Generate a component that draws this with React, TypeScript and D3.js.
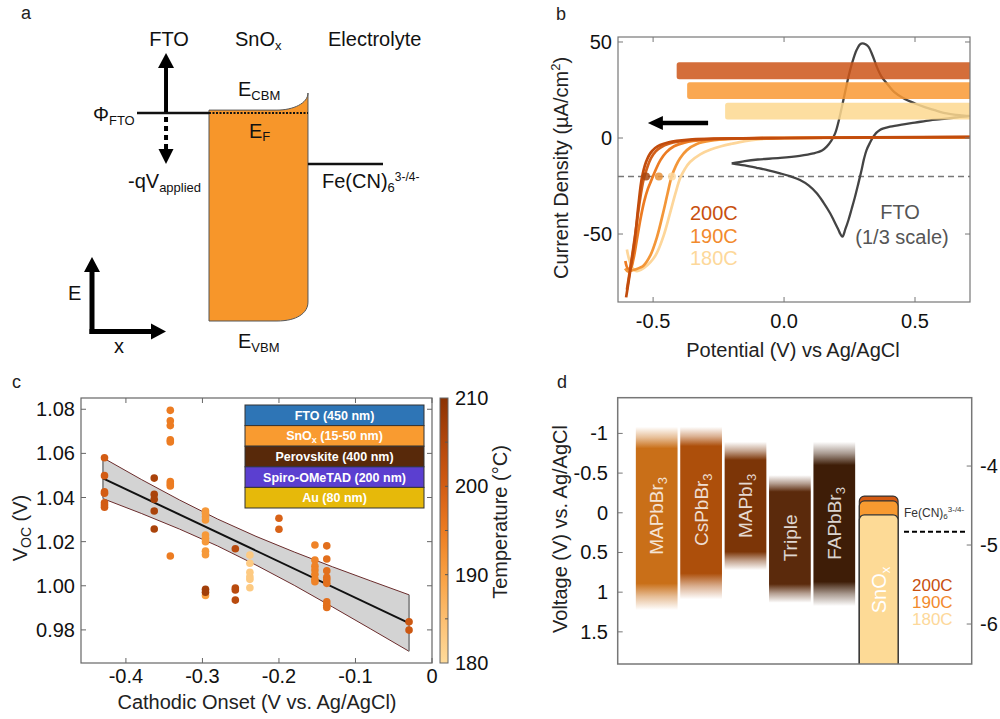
import React from "react";
import * as d3 from "d3";

const FONT = "'Liberation Sans', Arial, Helvetica, sans-serif";
type P = [number, number];

/* ================= Panel a (schematic levels, unitless) ================= */
const aRegionX = [0, 0.2927, 0.569, 0.695, 1]; // FTO start, SnOx left, bend start, SnOx right, electrolyte end
const aLevels = { vbm: 0, vbmRight: 0.083, fermi: 0.912, cbm: 0.925, cbmRight: 1.0, redox: 0.689 };
const aArrowX = 0.118;

/* ================= Panel b ================= */
const cvXTicks = [-0.5, 0, 0.5];
const cvXTickLabels = ["-0.5", "0.0", "0.5"];
const cvYTicks = [50, 0, -50];
const cvYTickLabels = ["50", "0", "-50"];

const lsv200a: P[] = [
  [-0.603, -83], [-0.586, -68], [-0.569, -52], [-0.556, -35], [-0.543, -21], [-0.527, -12.5],
  [-0.511, -8], [-0.492, -5.2], [-0.473, -3.6], [-0.44, -2.2], [-0.41, -1.5], [-0.35, -0.7],
  [-0.25, -0.3], [0, 0], [0.71, 0.6],
];
const lsv200b: P[] = [
  [-0.6, -79], [-0.583, -64], [-0.566, -48], [-0.551, -33], [-0.537, -22], [-0.524, -16],
  [-0.508, -10.5], [-0.49, -7], [-0.47, -4.8], [-0.44, -3], [-0.4, -1.8], [-0.34, -0.9],
  [-0.25, -0.4], [0, 0], [0.71, 0.5],
];
const lsv190a: P[] = [
  [-0.606, -64], [-0.596, -68], [-0.586, -68], [-0.575, -63], [-0.562, -53], [-0.548, -42],
  [-0.534, -33], [-0.52, -26.5], [-0.505, -21.5], [-0.49, -16.5], [-0.472, -11.5], [-0.45, -7.5],
  [-0.42, -4.3], [-0.38, -2.4], [-0.3, -0.9], [-0.2, -0.3], [0, 0], [0.71, 0.4],
];
const lsv190b: P[] = [
  [-0.607, -68], [-0.596, -69.5], [-0.582, -69], [-0.565, -68.3], [-0.55, -67.5], [-0.537, -66.5],
  [-0.51, -61], [-0.486, -52], [-0.46, -38], [-0.445, -29], [-0.429, -20], [-0.413, -14.5],
  [-0.397, -10.5], [-0.371, -6.3], [-0.333, -3.1], [-0.28, -1.4], [-0.2, -0.5], [0, 0], [0.71, 0.4],
];
const lsv180: P[] = [
  [-0.6, -58], [-0.59, -64], [-0.577, -68], [-0.562, -69.3], [-0.545, -68.5], [-0.52, -66],
  [-0.5, -63], [-0.486, -60], [-0.46, -51], [-0.435, -39], [-0.415, -29], [-0.397, -21],
  [-0.378, -16], [-0.359, -12.5], [-0.32, -8.5], [-0.28, -6], [-0.24, -4.3], [-0.2, -3],
  [-0.15, -1.6], [-0.1, -0.7], [0, 0], [0.71, 0.3],
];
const ftoCV: P[] = [
  [-0.2, -13.2], [-0.15, -12], [-0.1, -11.2], [-0.015, -10.4], [0.06, -9.3], [0.112, -8], [0.145, -6.5],
  [0.163, -4.5], [0.18, -1.5], [0.195, 2.4], [0.208, 8.5], [0.221, 16.3], [0.234, 24.5], [0.246, 31.9],
  [0.262, 40], [0.277, 45.8], [0.29, 48.8], [0.3, 49.3], [0.311, 48.8], [0.322, 47.6], [0.338, 43],
  [0.354, 37.1], [0.372, 32], [0.392, 28.5], [0.42, 24], [0.456, 20.7], [0.5, 18], [0.532, 16.3],
  [0.575, 14.5], [0.621, 12.8], [0.66, 12], [0.697, 11.5], [0.71, 11.4],
  [0.66, 10.8], [0.6, 9.8], [0.557, 9.2], [0.5, 8], [0.45, 7], [0.405, 5.9], [0.38, 5], [0.366, 4.2],
  [0.352, 2.7], [0.341, 0.7], [0.328, -2.5], [0.315, -6.3], [0.305, -11], [0.296, -16.7], [0.284, -23.5],
  [0.271, -30.6], [0.258, -37], [0.246, -42.7], [0.234, -47.5], [0.223, -51.4], [0.215, -50],
  [0.208, -47.9], [0.192, -43.5], [0.176, -39.2], [0.15, -33.5], [0.125, -28.8], [0.095, -24.8],
  [0.061, -21.9], [0.025, -20], [-0.015, -18.4], [-0.06, -16.8], [-0.105, -15.5], [-0.15, -14.3], [-0.2, -13.2],
];
const tempNames = ["200C", "190C", "180C"];
const tempBarStart = [-0.41, -0.37, -0.225];
const tempBarLevel = [35, 24.7, 14];
const onsetPotential = [-0.527, -0.478, -0.428];
const onsetCurrent = -20;
const sweepArrowX = [-0.29, -0.52];
const sweepArrowLevel = 7.8;

/* ================= Panel c ================= */
const onsetX = [
  -0.428, -0.428, -0.428, -0.428, -0.428, -0.428, -0.428,
  -0.363, -0.363, -0.363, -0.363, -0.363,
  -0.342, -0.342, -0.342, -0.342, -0.342, -0.342, -0.342, -0.342, -0.342,
  -0.296, -0.296, -0.296, -0.296, -0.296, -0.296, -0.296, -0.296, -0.296, -0.296, -0.296, -0.296,
  -0.257, -0.257, -0.257, -0.257,
  -0.238, -0.238, -0.238, -0.238, -0.238, -0.238,
  -0.2, -0.2,
  -0.153, -0.153, -0.153, -0.153, -0.153, -0.153, -0.153,
  -0.1375, -0.1375, -0.1375, -0.1375, -0.1375, -0.1375, -0.1375, -0.1375, -0.1375,
  -0.03, -0.03,
];
const vocY = [
  1.058, 1.0499, 1.0426, 1.0419, 1.0376, 1.0366, 1.0356,
  1.0488, 1.0414, 1.0392, 1.0339, 1.0257,
  1.0795, 1.0748, 1.0726, 1.0661, 1.0652, 1.0472, 1.0461, 1.0452, 1.0135,
  1.0339, 1.0328, 1.0313, 1.0298, 1.023, 1.0215, 1.02, 1.0157, 1.0141, 0.9956, 0.9984, 0.9971,
  1.0168, 0.999, 0.9981, 0.9935,
  1.0139, 1.0102, 1.0061, 1.0041, 1.0029, 0.9991,
  1.0306, 1.0256,
  1.0185, 1.0117, 1.0089, 1.0071, 1.0052, 1.003, 1.0018,
  1.0181, 1.0121, 1.0068, 1.0038, 1.0026, 1.0011, 0.9927, 0.9912, 0.9902,
  0.9837, 0.9799,
];
const tempC = [
  200, 200, 200, 200, 200, 200, 200,
  206, 206, 206, 206, 206,
  195, 195, 195, 195, 195, 195, 195, 195, 195,
  191, 191, 191, 191, 191, 191, 191, 191, 191, 190, 207, 207,
  204, 204, 204, 204,
  183, 183, 183, 183, 183, 183,
  199, 199,
  194, 194, 194, 194, 194, 194, 194,
  197, 197, 197, 197, 197, 197, 197, 197, 197,
  201, 201,
];
const fitX = [-0.43, -0.03];
const fitY = [1.0487, 0.9831];
const bandX = [-0.43, -0.38, -0.33, -0.28, -0.23, -0.18, -0.13, -0.08, -0.03];
const bandUpper = [1.058, 1.0482, 1.0389, 1.0302, 1.0224, 1.0153, 1.0086, 1.0022, 0.9959];
const bandLower = [1.0395, 1.0328, 1.0257, 1.018, 1.0094, 1.0002, 0.9904, 0.9804, 0.9703];
const cXTicks = [-0.4, -0.3, -0.2, -0.1, 0];
const cXTickLabels = ["-0.4", "-0.3", "-0.2", "-0.1", "0"];
const cYTicks = [0.98, 1.0, 1.02, 1.04, 1.06, 1.08];
const cbTicks = [180, 190, 200, 210];
const layerNames = ["FTO (450 nm)", "SnOx (15-50 nm)", "Perovskite (400 nm)", "Spiro-OMeTAD (200 nm)", "Au (80 nm)"];

/* ================= Panel d ================= */
const matBase = ["MAPbBr", "CsPbBr", "MAPbI", "Triple", "FAPbBr"];
const matSub = ["3", "3", "3", "", "3"];
const cbFadeStart = [-1.083, -1.083, -0.894, -0.475, -0.894];
const cbSolid = [-0.811, -0.84, -0.664, -0.265, -0.6];
const vbSolid = [0.889, 0.763, 0.491, 0.898, 0.869];
const vbFadeEnd = [1.225, 1.09, 0.722, 1.134, 1.175];
const snoxTop = [-0.21, -0.15, 0.025];
const ferriPotential = 0.24;
const dLeftTicks = [-1, -0.5, 0, 0.5, 1, 1.5];
const dLeftTickLabels = ["-1", "-0.5", "0", "0.5", "1", "1.5"];
const dRightTicks = [-4, -5, -6];

export default function App() {
  /* ---- panel a scales ---- */
  const xA = d3.scaleLinear().domain([0, 1]).range([137, 383]);
  const yA = d3.scaleLinear().domain([0, 1]).range([321, 93]);

  /* ---- panel b ---- */
  const xB = d3.scaleLinear().domain([-0.634, 0.71]).range([618, 970]);
  const yB = d3.scaleLinear().domain([52.6, -85.4]).range([37, 302]);
  const lineB = d3.line<P>().x((d) => xB(d[0])).y((d) => yB(d[1])).curve(d3.curveCatmullRom.alpha(0.5));
  const lsvSet = [
    { d: lsv180, c: "#fdd69a" },
    { d: lsv190b, c: "#f39638" },
    { d: lsv190a, c: "#ec7b22" },
    { d: lsv200b, c: "#d2601a" },
    { d: lsv200a, c: "#c24c0c" },
  ];
  const tempTextColors = ["#c8500e", "#f28a2c", "#fdd89a"];
  const tempBarColors = ["#cd5517", "#f99934", "#fdd88f"];
  const dotColors = ["#a8460f", "#e8923a", "#fdd9a0"];

  /* ---- panel c ---- */
  const xC = d3.scaleLinear().domain([-0.4587, 0]).range([81, 432]);
  const yC = d3.scaleLinear().domain([1.0851, 0.965]).range([398, 663]);
  const tempColor = d3
    .scaleLinear<string>()
    .domain([180, 185, 190, 195, 200, 205, 210])
    .range(["#fedb9b", "#fcbf72", "#f9a040", "#ec7c22", "#d35c14", "#b2470c", "#8a3204"]);
  const yCB = d3.scaleLinear().domain([180, 210]).range([663, 398]);
  const bandArea = d3
    .area<number>()
    .x((_, i) => xC(bandX[i]))
    .y0((_, i) => yC(bandLower[i]))
    .y1((_, i) => yC(bandUpper[i]));
  const bandUpLine = d3.line<number>().x((_, i) => xC(bandX[i])).y((_, i) => yC(bandUpper[i]));
  const bandLoLine = d3.line<number>().x((_, i) => xC(bandX[i])).y((_, i) => yC(bandLower[i]));
  const layerColors = ["#2e75b6", "#f99b30", "#58290a", "#5b3fd0", "#e6b90a"];
  const layerY = d3.scaleBand<number>().domain([0, 1, 2, 3, 4]).range([405, 508]);
  const cbGradStops = d3.range(0, 11).map((i) => 180 + i * 3);

  /* ---- panel d ---- */
  const yD = d3.scaleLinear().domain([-1.45, 1.905]).range([397.7, 664]);
  const yDR = d3.scaleLinear().domain([-3.135, -6.506]).range([397.7, 664]);
  const xD = d3
    .scaleBand<string>()
    .domain([...matBase, "SnOx"])
    .range([634.5, 900.9])
    .paddingInner(0.06)
    .paddingOuter(0.03);
  const matColors = ["#c96f18", "#ad4f0b", "#7c3507", "#5b2a0c", "#3e1d07"];
  const snoxColors = ["#d35a12", "#f89a30", "#fdda96"];

  const tick = 5;

  return (
    <svg
      width={1000}
      height={719}
      style={{ position: "absolute", left: 0, top: 0, background: "#fff" }}
      fontFamily={FONT}
    >
      <defs>
        <clipPath id="clipB">
          <rect x={618} y={37} width={352} height={265} />
        </clipPath>
        <clipPath id="clipC">
          <rect x={81} y={398} width={351} height={265} />
        </clipPath>
        <clipPath id="clipD">
          <rect x={617.7} y={397.7} width={354} height={266.3} />
        </clipPath>
        <linearGradient id="cbGrad" x1="0" y1="1" x2="0" y2="0">
          {cbGradStops.map((t, i) => (
            <stop key={i} offset={(t - 180) / 30} stopColor={tempColor(t)} />
          ))}
        </linearGradient>
        {matBase.map((m, i) => {
          const y0 = yD(cbFadeStart[i]);
          const y3 = yD(vbFadeEnd[i]);
          const H = y3 - y0;
          const o1 = (yD(cbSolid[i]) - y0) / H;
          const o2 = (yD(vbSolid[i]) - y0) / H;
          return (
            <linearGradient key={m} id={`mg${i}`} x1="0" y1="0" x2="0" y2="1">
              <stop offset={0} stopColor={matColors[i]} stopOpacity={0} />
              <stop offset={o1 * 0.5} stopColor={matColors[i]} stopOpacity={0.45} />
              <stop offset={o1} stopColor={matColors[i]} stopOpacity={1} />
              <stop offset={o2} stopColor={matColors[i]} stopOpacity={1} />
              <stop offset={o2 + (1 - o2) * 0.5} stopColor={matColors[i]} stopOpacity={0.45} />
              <stop offset={1} stopColor={matColors[i]} stopOpacity={0} />
            </linearGradient>
          );
        })}
      </defs>
      <rect x={0} y={0} width={1000} height={719} fill="#fff" />

      {/* ================= Panel a ================= */}
      <text x={21} y={19} fontSize={18} fill="#222">a</text>
      <text x={169} y={46} fontSize={20} textAnchor="middle" fill="#111">FTO</text>
      <text x={235} y={46} fontSize={20} fill="#111">
        SnO<tspan fontSize={13} dy={4}>x</tspan>
      </text>
      <text x={328} y={46} fontSize={20} fill="#111">Electrolyte</text>

      {/* SnOx band */}
      <path
        d={`M${xA(aRegionX[1])},${yA(aLevels.cbm)} L${xA(aRegionX[2])},${yA(aLevels.cbm)} C${xA(0.635)},${yA(aLevels.cbm)} ${xA(aRegionX[3])},${yA(0.955)} ${xA(aRegionX[3])},${yA(aLevels.cbmRight)} L${xA(aRegionX[3])},${yA(aLevels.vbmRight)} C${xA(aRegionX[3])},${yA(0.035)} ${xA(0.65)},${yA(aLevels.vbm)} ${xA(aRegionX[2])},${yA(aLevels.vbm)} L${xA(aRegionX[1])},${yA(aLevels.vbm)} Z`}
        fill="#f7962a"
        stroke="#555"
        strokeWidth={1}
      />
      <line x1={xA(aRegionX[1])} x2={xA(aRegionX[3])} y1={yA(aLevels.fermi)} y2={yA(aLevels.fermi)} stroke="#111" strokeWidth={2} strokeDasharray="2,1.5" />
      <line x1={xA(aRegionX[0])} x2={xA(aRegionX[1])} y1={yA(aLevels.fermi)} y2={yA(aLevels.fermi)} stroke="#111" strokeWidth={2.5} />
      <line x1={xA(aRegionX[3])} x2={xA(aRegionX[4])} y1={yA(aLevels.redox)} y2={yA(aLevels.redox)} stroke="#111" strokeWidth={2.5} />
      {/* up arrow */}
      <line x1={xA(aArrowX)} x2={xA(aArrowX)} y1={yA(aLevels.fermi) - 1} y2={66} stroke="#000" strokeWidth={4} />
      <polygon points={`${xA(aArrowX)},53 ${xA(aArrowX) - 8},68 ${xA(aArrowX) + 8},68`} fill="#000" />
      {/* dashed down arrow */}
      <line x1={xA(aArrowX)} x2={xA(aArrowX)} y1={117} y2={150} stroke="#000" strokeWidth={4} strokeDasharray="5,4" />
      <polygon points={`${xA(aArrowX)},164 ${xA(aArrowX) - 7.5},149 ${xA(aArrowX) + 7.5},149`} fill="#000" />

      <text x={93} y={121} fontSize={20} fill="#111">
        Φ<tspan fontSize={13} dy={4}>FTO</tspan>
      </text>
      <text x={128} y={188} fontSize={20} fill="#111">
        -qV<tspan fontSize={13} dy={4}>applied</tspan>
      </text>
      <text x={238} y={96} fontSize={20} fill="#111">
        E<tspan fontSize={13} dy={4}>CBM</tspan>
      </text>
      <text x={249} y={137.5} fontSize={20} fill="#111">
        E<tspan fontSize={13} dy={3}>F</tspan>
      </text>
      <text x={322} y={188} fontSize={20} fill="#111">
        Fe(CN)<tspan fontSize={13} dy={4}>6</tspan>
        <tspan fontSize={12} dy={-11}>3-/4-</tspan>
      </text>
      <text x={238} y={348} fontSize={20} fill="#111">
        E<tspan fontSize={13} dy={4}>VBM</tspan>
      </text>
      {/* E / x axes */}
      <line x1={92} x2={92} y1={334} y2={270} stroke="#000" strokeWidth={5} />
      <polygon points="92,257 84,272 100,272" fill="#000" />
      <line x1={89.5} x2={152} y1={331.5} y2={331.5} stroke="#000" strokeWidth={5} />
      <polygon points="166,331.5 151,323.5 151,339.5" fill="#000" />
      <text x={68} y={300} fontSize={20} fill="#111">E</text>
      <text x={119} y={353} fontSize={20} fill="#111" textAnchor="middle">x</text>

      {/* ================= Panel b ================= */}
      <text x={556} y={20} fontSize={18} fill="#222">b</text>
      <g clipPath="url(#clipB)">
        <line x1={618} x2={970} y1={yB(onsetCurrent)} y2={yB(onsetCurrent)} stroke="#777" strokeWidth={1.5} strokeDasharray="6,4" />
        <path d={lineB(ftoCV) || ""} fill="none" stroke="#444" strokeWidth={2.3} />
        {lsvSet.map((s, i) => (
          <path key={i} d={lineB(s.d) || ""} fill="none" stroke={s.c} strokeWidth={2.7} />
        ))}
        {onsetPotential.map((v, i) => (
          <circle key={i} cx={xB(v)} cy={yB(onsetCurrent)} r={4} fill={dotColors[i]} opacity={0.85} />
        ))}
        {tempNames.map((n, i) => (
          <rect
            key={n}
            x={xB(tempBarStart[i])}
            y={yB(tempBarLevel[i] + 4.4)}
            width={970 - xB(tempBarStart[i]) + 4}
            height={yB(tempBarLevel[i] - 4.4) - yB(tempBarLevel[i] + 4.4)}
            rx={2.5}
            fill={tempBarColors[i]}
            opacity={0.85}
          />
        ))}
      </g>
      {/* sweep arrow */}
      <line x1={xB(sweepArrowX[0])} x2={xB(sweepArrowX[1]) + 12} y1={yB(sweepArrowLevel)} y2={yB(sweepArrowLevel)} stroke="#000" strokeWidth={4.5} />
      <polygon
        points={`${xB(sweepArrowX[1])},${yB(sweepArrowLevel)} ${xB(sweepArrowX[1]) + 15},${yB(sweepArrowLevel) - 7} ${xB(sweepArrowX[1]) + 15},${yB(sweepArrowLevel) + 7}`}
        fill="#000"
      />
      {tempNames.map((n, i) => (
        <text key={n} x={690} y={220 + i * 22.5} fontSize={20} fill={tempTextColors[i]}>{n}</text>
      ))}
      <text x={900} y={219} fontSize={20} fill="#555" textAnchor="middle">FTO</text>
      <text x={902} y={244} fontSize={20} fill="#555" textAnchor="middle">(1/3 scale)</text>
      <rect x={618} y={37} width={352} height={265} fill="none" stroke="#777" strokeWidth={1.2} />
      {cvXTicks.map((t, i) => (
        <g key={t}>
          <line x1={xB(t)} x2={xB(t)} y1={302} y2={302 - tick} stroke="#777" />
          <line x1={xB(t)} x2={xB(t)} y1={37} y2={37 + tick} stroke="#777" />
          <text x={xB(t)} y={328} fontSize={20} textAnchor="middle" fill="#111">{cvXTickLabels[i]}</text>
        </g>
      ))}
      {cvYTicks.map((t, i) => (
        <g key={t}>
          <line x1={618} x2={618 + tick} y1={yB(t)} y2={yB(t)} stroke="#777" />
          <line x1={970} x2={970 - tick} y1={yB(t)} y2={yB(t)} stroke="#777" />
          <text x={612} y={yB(t)} dy="0.35em" fontSize={20} textAnchor="end" fill="#111">{cvYTickLabels[i]}</text>
        </g>
      ))}
      <text x={793} y={357} fontSize={20} textAnchor="middle" fill="#222">Potential (V) vs Ag/AgCl</text>
      <text transform="translate(561,168) rotate(-90)" dy="0.35em" fontSize={20} textAnchor="middle" fill="#222">
        Current Density (µA/cm<tspan fontSize={13} dy={-8}>2</tspan><tspan dy={8}>)</tspan>
      </text>

      {/* ================= Panel c ================= */}
      <text x={12} y={388} fontSize={18} fill="#222">c</text>
      <g clipPath="url(#clipC)">
        <path d={bandArea(bandX) || ""} fill="#d3d3d3" />
        <path d={bandUpLine(bandX) || ""} fill="none" stroke="#6a2c2c" strokeWidth={1} />
        <path d={bandLoLine(bandX) || ""} fill="none" stroke="#6a2c2c" strokeWidth={1} />
        <line x1={xC(bandX[0])} x2={xC(bandX[0])} y1={yC(bandUpper[0])} y2={yC(bandLower[0])} stroke="#777" strokeWidth={1.5} />
        <line x1={xC(bandX[8])} x2={xC(bandX[8])} y1={yC(bandUpper[8])} y2={yC(bandLower[8])} stroke="#777" strokeWidth={1.5} />
        <line x1={xC(fitX[0])} x2={xC(fitX[1])} y1={yC(fitY[0])} y2={yC(fitY[1])} stroke="#111" strokeWidth={2} />
        {onsetX.map((x, i) => (
          <circle key={i} cx={xC(x)} cy={yC(vocY[i])} r={3.8} fill={tempColor(tempC[i])} />
        ))}
      </g>
      {/* layer stack inset */}
      {layerNames.map((n, i) => (
        <g key={n}>
          <rect x={245} y={layerY(i)} width={179} height={layerY.bandwidth()} fill={layerColors[i]} stroke="#333" strokeWidth={1} />
          <text x={334.5} y={(layerY(i) || 0) + layerY.bandwidth() / 2} dy="0.36em" fontSize={12.5} fontWeight="bold" fill="#fff" textAnchor="middle">
            {i === 1 ? (
              <>
                SnO<tspan fontSize={9} dy={3}>x</tspan>
                <tspan dy={-3}> (15-50 nm)</tspan>
              </>
            ) : (
              n
            )}
          </text>
        </g>
      ))}
      <rect x={81} y={398} width={351} height={265} fill="none" stroke="#666" strokeWidth={1.2} />
      {cXTicks.map((t, i) => (
        <g key={t}>
          <line x1={xC(t)} x2={xC(t)} y1={663} y2={663 - tick} stroke="#666" />
          <line x1={xC(t)} x2={xC(t)} y1={398} y2={398 + tick} stroke="#666" />
          <text x={xC(t)} y={683} fontSize={20} textAnchor="middle" fill="#111">{cXTickLabels[i]}</text>
        </g>
      ))}
      {cYTicks.map((t) => (
        <g key={t}>
          <line x1={81} x2={81 + tick} y1={yC(t)} y2={yC(t)} stroke="#666" />
          <line x1={432} x2={432 - tick} y1={yC(t)} y2={yC(t)} stroke="#666" />
          <text x={75} y={yC(t)} dy="0.35em" fontSize={20} textAnchor="end" fill="#111">{t.toFixed(2)}</text>
        </g>
      ))}
      <text x={257} y={709} fontSize={20} textAnchor="middle" fill="#222">Cathodic Onset (V vs. Ag/AgCl)</text>
      <text transform="translate(20,528) rotate(-90)" dy="0.35em" fontSize={20} textAnchor="middle" fill="#222">
        V<tspan fontSize={14} dy={4}>OC</tspan><tspan dy={-4}> (V)</tspan>
      </text>
      {/* colorbar */}
      <rect x={440} y={398} width={8} height={265} fill="url(#cbGrad)" stroke="#666" strokeWidth={1} />
      {[185, 190, 195, 200, 205].map((t) => (
        <line key={t} x1={448} x2={445} y1={yCB(t)} y2={yCB(t)} stroke="#555" />
      ))}
      {cbTicks.map((t) => (
        <text key={t} x={455} y={yCB(t)} dy="0.35em" fontSize={20} fill="#111">{t}</text>
      ))}
      <text transform="translate(500,522) rotate(-90)" dy="0.35em" fontSize={20} textAnchor="middle" fill="#222">Temperature (°C)</text>

      {/* ================= Panel d ================= */}
      <text x={557} y={388} fontSize={18} fill="#222">d</text>
      <g clipPath="url(#clipD)">
        {matBase.map((m, i) => (
          <rect
            key={m}
            x={xD(m)}
            y={yD(cbFadeStart[i])}
            width={xD.bandwidth()}
            height={yD(vbFadeEnd[i]) - yD(cbFadeStart[i])}
            fill={`url(#mg${i})`}
          />
        ))}
        {snoxTop.map((v, i) => (
          <rect
            key={i}
            x={(xD("SnOx") || 0) + 1.5}
            y={yD(v)}
            width={xD.bandwidth() - 3}
            height={680 - yD(v)}
            rx={5}
            fill={snoxColors[i]}
            stroke="#333"
            strokeWidth={1.2}
          />
        ))}
      </g>
      {matBase.map((m, i) => (
        <text
          key={m}
          transform={`translate(${(xD(m) || 0) + xD.bandwidth() / 2},${(yD(cbSolid[i]) + yD(vbSolid[i])) / 2}) rotate(-90)`}
          dy="0.35em"
          fontSize={19}
          textAnchor="middle"
          fill="#fff"
          fillOpacity={0.82}
        >
          {m}
          {matSub[i] ? (
            <tspan fontSize={13} dy={4}>{matSub[i]}</tspan>
          ) : null}
        </text>
      ))}
      <text
        transform={`translate(${(xD("SnOx") || 0) + xD.bandwidth() / 2},590) rotate(-90)`}
        dy="0.35em"
        fontSize={20}
        textAnchor="middle"
        fill="#fff"
      >
        SnO<tspan fontSize={13} dy={4}>x</tspan>
      </text>
      <text x={904} y={517} fontSize={12} fill="#333">
        Fe(CN)<tspan fontSize={8} dy={2}>6</tspan>
        <tspan fontSize={8} dy={-7}>3-/4-</tspan>
      </text>
      <line x1={904} x2={965} y1={yD(ferriPotential)} y2={yD(ferriPotential)} stroke="#000" strokeWidth={2} strokeDasharray="5,3" />
      {tempNames.map((n, i) => (
        <text key={n} x={912} y={591 + i * 17.2} fontSize={17} fill={tempTextColors[i]}>{n}</text>
      ))}
      <rect x={617.7} y={397.7} width={354} height={266.3} fill="none" stroke="#777" strokeWidth={1.5} />
      {dLeftTicks.map((t, i) => (
        <g key={t}>
          <line x1={617.7} x2={617.7 + tick} y1={yD(t)} y2={yD(t)} stroke="#777" />
          <text x={608} y={yD(t)} dy="0.35em" fontSize={20} textAnchor="end" fill="#111">{dLeftTickLabels[i]}</text>
        </g>
      ))}
      {dRightTicks.map((t) => (
        <g key={t}>
          <line x1={971.7} x2={971.7 - tick} y1={yDR(t)} y2={yDR(t)} stroke="#777" />
          <text x={980} y={yDR(t)} dy="0.35em" fontSize={20} fill="#111">{t}</text>
        </g>
      ))}
      <text transform="translate(560,529) rotate(-90)" dy="0.35em" fontSize={20} textAnchor="middle" fill="#222">
        Voltage (V) vs. Ag/AgCl
      </text>
    </svg>
  );
}
